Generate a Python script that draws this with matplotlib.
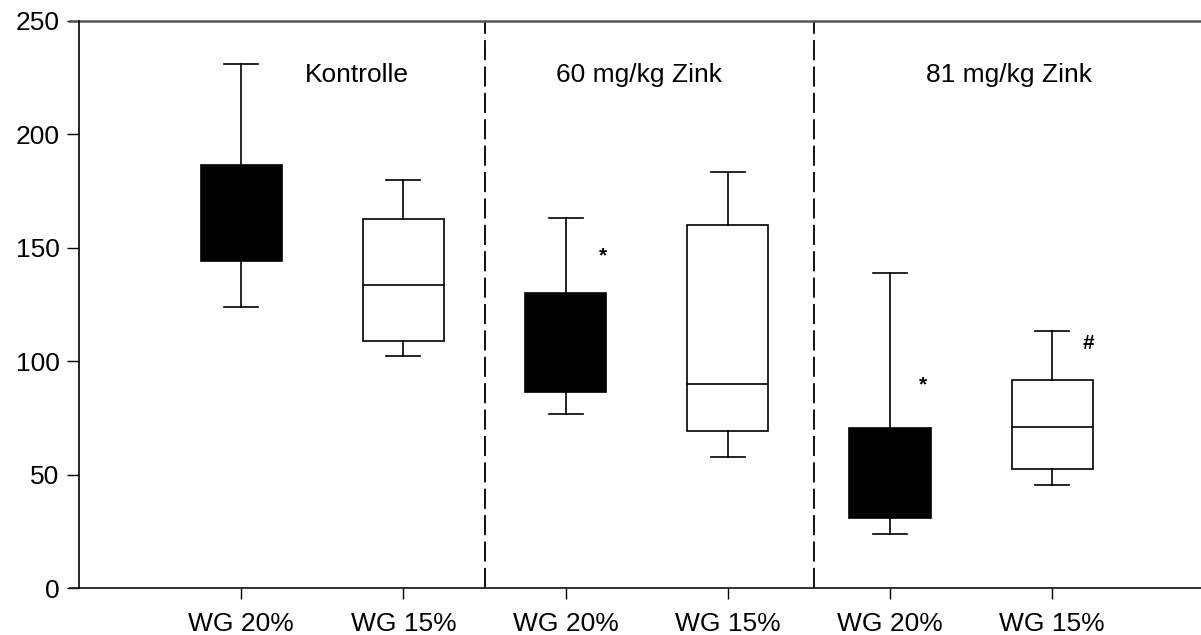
import matplotlib.pyplot as plt
from matplotlib.transforms import blended_transform_factory

plt.rcParams['font.family'] = ['Liberation Sans', 'DejaVu Sans']
plt.rcParams['lines.scale_dashes'] = False

# box statistics per group: Kontrolle, 60 mg/kg Zink, 81 mg/kg Zink (WG 20% / WG 15%)
positions = [1, 2, 3, 4, 5, 6]
tick_labels = ['WG 20%', 'WG 15%', 'WG 20%', 'WG 15%', 'WG 20%', 'WG 15%']
whisker_low = [124.1, 102.2, 76.7, 57.7, 23.8, 45.5]
q1 = [144.3, 108.7, 86.5, 69.3, 30.9, 52.4]
median = [166.0, 133.8, 119.0, 89.9, 57.2, 71.0]
q3 = [186.4, 162.7, 130.0, 159.9, 70.7, 91.6]
whisker_high = [231.0, 180.0, 163.3, 183.3, 138.9, 113.5]
fill = ['black', 'white', 'black', 'white', 'black', 'white']

group_names = ['Kontrolle', '60 mg/kg Zink', '81 mg/kg Zink']
group_text_x = [1.39, 2.94, 5.22]
separators = [2.5, 4.53]

# significance marks
mark_text = ['*', '*', '#']
mark_x = [3.23, 5.20, 6.22]
mark_y = [146.6, 89.6, 108.0]

fig = plt.figure(figsize=(12.01, 6.35), dpi=100)
ax = fig.add_axes([79 / 1201, 47 / 635, 1122 / 1201, 567 / 635])

stats = []
for i in range(len(positions)):
    stats.append(dict(whislo=whisker_low[i], q1=q1[i], med=median[i],
                      q3=q3[i], whishi=whisker_high[i], fliers=[]))

bp = ax.bxp(stats, positions=positions, widths=0.5, capwidths=0.21,
            patch_artist=True, showfliers=False,
            boxprops=dict(edgecolor='black', linewidth=1.2),
            medianprops=dict(color='black', linewidth=1.2),
            whiskerprops=dict(color='black', linewidth=1.2),
            capprops=dict(color='black', linewidth=1.2))
for patch, c in zip(bp['boxes'], fill):
    patch.set_facecolor(c)

for xs in separators:
    ax.plot([xs, xs], [0, 250], color='black', linewidth=1.3,
            dashes=(14.5, 4.5))

for name, gx in zip(group_names, group_text_x):
    ax.text(gx, 223, name, fontsize=19, ha='left', va='baseline')

for t, mx, my in zip(mark_text, mark_x, mark_y):
    ax.text(mx, my, t, fontsize=15, fontweight='bold', ha='center', va='center')

ax.set_xlim(0, 6.917)
ax.set_ylim(0, 250)
ax.set_yticks([0, 50, 100, 150, 200, 250])
ax.set_xticks(positions)
ax.set_xticklabels(tick_labels)
ax.tick_params(axis='both', direction='out', labelsize=19, width=1, color='black')
ax.tick_params(axis='y', length=9, pad=5)
ax.tick_params(axis='x', length=8, pad=9)

for side in ['top', 'right', 'bottom']:
    ax.spines[side].set_visible(False)
ax.spines['left'].set_linewidth(1.2)

# horizontal frame lines run a little past the left spine
trans = blended_transform_factory(ax.transAxes, ax.transData)
ax.plot([-0.008, 1.0], [250, 250], color='#555555', linewidth=1.8,
        transform=trans, clip_on=False)
ax.plot([-0.008, 1.0], [0, 0], color='#222222', linewidth=1.3,
        transform=trans, clip_on=False)

fig.savefig('out.png', dpi=100)
